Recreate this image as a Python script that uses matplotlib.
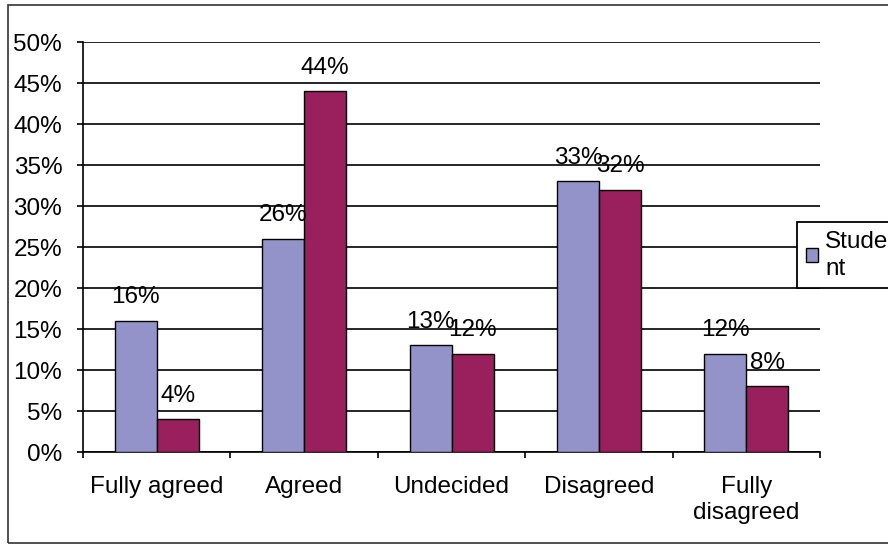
import matplotlib
matplotlib.use('Agg')
import matplotlib.pyplot as plt
from matplotlib.patches import Rectangle
import numpy as np

categories = ['Fully agreed', 'Agreed', 'Undecided', 'Disagreed', 'Fully\ndisagreed']
student = [16, 26, 13, 33, 12]
other = [4, 44, 12, 32, 8]
yticks = [0, 5, 10, 15, 20, 25, 30, 35, 40, 45, 50]

plt.rcParams['font.family'] = ['Liberation Sans', 'DejaVu Sans']
fs = 17.5

fig = plt.figure(figsize=(8.88, 5.45), dpi=100, facecolor='w')
ax = fig.add_axes([0.0935, 0.1706, 0.83, 0.7523])

# outer chart border
fig.patches.append(Rectangle((8 / 888, 2 / 545), 1.0, 538 / 545, transform=fig.transFigure,
                             fill=False, edgecolor='#333333', linewidth=1.2))

x = np.arange(len(categories))
w = 0.285
b1 = ax.bar(x - w / 2, student, w, color='#9393C9', edgecolor='k', linewidth=1.0,
            label='Stude\nnt', zorder=3)
b2 = ax.bar(x + w / 2, other, w, color='#9A1F5D', edgecolor='k', linewidth=1.0, zorder=3)

for bars, vals in ((b1, student), (b2, other)):
    for r, v in zip(bars, vals):
        ax.annotate('%d%%' % v, (r.get_x() + r.get_width() / 2, v), xytext=(0, 17),
                    textcoords='offset points', ha='center', va='center', fontsize=fs)

ax.set_xlim(-0.5, len(categories) - 0.5)
ax.set_ylim(0, 50)
ax.set_yticks(yticks)
ax.set_yticklabels(['%d%%' % t for t in yticks], fontsize=fs)
ax.yaxis.grid(True, color='k', linewidth=1.2, zorder=0)
ax.set_axisbelow(True)

ax.set_xticks(x)
ax.set_xticklabels(categories, fontsize=fs, linespacing=1.25)
ax.set_xticks(np.arange(len(categories) + 1) - 0.5, minor=True)
ax.tick_params(axis='x', which='major', length=0, pad=17)
ax.tick_params(axis='x', which='minor', length=4, width=1.2, direction='out')
ax.tick_params(axis='y', length=4, width=1.2, direction='out', pad=11)

for s in ('top', 'right'):
    ax.spines[s].set_visible(False)
for s in ('left', 'bottom'):
    ax.spines[s].set_linewidth(1.2)

leg = fig.legend(handles=[b1], loc='upper left', bbox_to_anchor=(797 / 888, 323 / 545),
                 frameon=True, fancybox=False, edgecolor='k', framealpha=1,
                 handlelength=0.5, handleheight=0.5, handletextpad=0.3, borderpad=0.35,
                 borderaxespad=0, fontsize=fs, labelspacing=0)
leg.get_frame().set_linewidth(1.3)
for t in leg.get_texts():
    t.set_linespacing(1.3)

fig.savefig('out.png', dpi=100)
